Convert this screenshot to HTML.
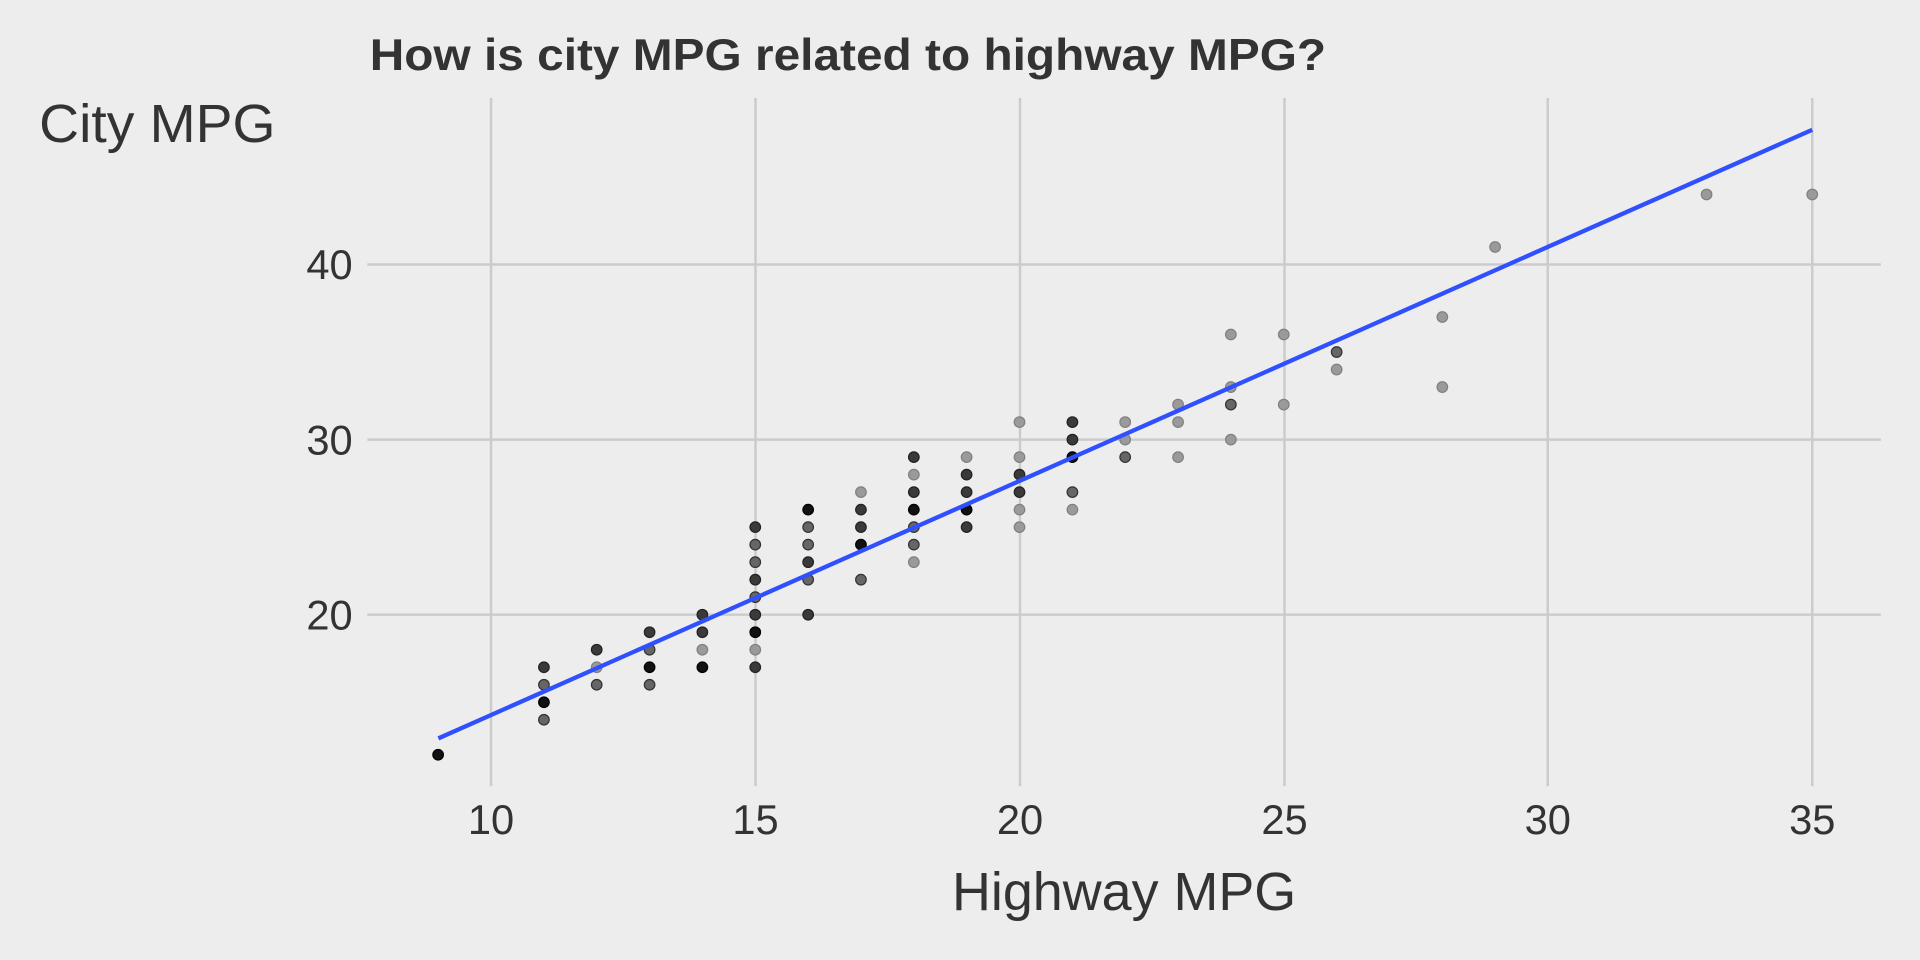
<!DOCTYPE html>
<html><head><meta charset="utf-8"><style>html,body{margin:0;padding:0;background:#ededed;}svg{display:block}
.L{fill:#9a9a9a;stroke:#808080;stroke-width:1}.M{fill:#666;stroke:#333;stroke-width:1}.D{fill:#3a3a3a;stroke:#222;stroke-width:1}.B{fill:#111;stroke:#000;stroke-width:1}</style></head>
<body>
<svg width="1920" height="960" viewBox="0 0 1568 784" xmlns="http://www.w3.org/2000/svg" font-family="Liberation Sans, sans-serif">
<rect width="1568" height="784" fill="#ededed"/>
<g stroke="#cbcbcb" stroke-width="2">
<line x1="300" x2="1536" y1="216" y2="216"/>
<line x1="300" x2="1536" y1="359" y2="359"/>
<line x1="300" x2="1536" y1="502" y2="502"/>
<line x1="401" x2="401" y1="80" y2="642"/>
<line x1="617" x2="617" y1="80" y2="642"/>
<line x1="833" x2="833" y1="80" y2="642"/>
<line x1="1049" x2="1049" y1="80" y2="642"/>
<line x1="1264" x2="1264" y1="80" y2="642"/>
<line x1="1480" x2="1480" y1="80" y2="642"/>
</g>
<g>
<circle class="B" cx="357.8" cy="616.4" r="4.3"/>
<circle class="D" cx="444.2" cy="544.9" r="4.3"/><circle class="M" cx="444.2" cy="559.2" r="4.3"/><circle class="B" cx="444.2" cy="573.5" r="4.3"/><circle class="M" cx="444.2" cy="587.8" r="4.3"/>
<circle class="D" cx="487.3" cy="530.6" r="4.3"/><circle class="L" cx="487.3" cy="544.9" r="4.3"/><circle class="M" cx="487.3" cy="559.2" r="4.3"/>
<circle class="D" cx="530.5" cy="516.3" r="4.3"/><circle class="M" cx="530.5" cy="530.6" r="4.3"/><circle class="B" cx="530.5" cy="544.9" r="4.3"/><circle class="M" cx="530.5" cy="559.2" r="4.3"/>
<circle class="D" cx="573.6" cy="502" r="4.3"/><circle class="D" cx="573.6" cy="516.3" r="4.3"/><circle class="L" cx="573.6" cy="530.6" r="4.3"/><circle class="B" cx="573.6" cy="544.9" r="4.3"/>
<circle class="D" cx="616.8" cy="430.5" r="4.3"/><circle class="M" cx="616.8" cy="444.8" r="4.3"/><circle class="M" cx="616.8" cy="459.1" r="4.3"/><circle class="D" cx="616.8" cy="473.4" r="4.3"/><circle class="M" cx="616.8" cy="487.7" r="4.3"/><circle class="D" cx="616.8" cy="502" r="4.3"/><circle class="B" cx="616.8" cy="516.3" r="4.3"/><circle class="L" cx="616.8" cy="530.6" r="4.3"/><circle class="D" cx="616.8" cy="544.9" r="4.3"/>
<circle class="B" cx="660" cy="416.2" r="4.3"/><circle class="M" cx="660" cy="430.5" r="4.3"/><circle class="M" cx="660" cy="444.8" r="4.3"/><circle class="D" cx="660" cy="459.1" r="4.3"/><circle class="M" cx="660" cy="473.4" r="4.3"/><circle class="D" cx="660" cy="502" r="4.3"/>
<circle class="L" cx="703.1" cy="401.9" r="4.3"/><circle class="D" cx="703.1" cy="416.2" r="4.3"/><circle class="D" cx="703.1" cy="430.5" r="4.3"/><circle class="B" cx="703.1" cy="444.8" r="4.3"/><circle class="M" cx="703.1" cy="473.4" r="4.3"/>
<circle class="D" cx="746.3" cy="373.3" r="4.3"/><circle class="L" cx="746.3" cy="387.6" r="4.3"/><circle class="D" cx="746.3" cy="401.9" r="4.3"/><circle class="B" cx="746.3" cy="416.2" r="4.3"/><circle class="M" cx="746.3" cy="430.5" r="4.3"/><circle class="M" cx="746.3" cy="444.8" r="4.3"/><circle class="L" cx="746.3" cy="459.1" r="4.3"/>
<circle class="L" cx="789.4" cy="373.3" r="4.3"/><circle class="D" cx="789.4" cy="387.6" r="4.3"/><circle class="D" cx="789.4" cy="401.9" r="4.3"/><circle class="B" cx="789.4" cy="416.2" r="4.3"/><circle class="D" cx="789.4" cy="430.5" r="4.3"/>
<circle class="L" cx="832.6" cy="344.7" r="4.3"/><circle class="L" cx="832.6" cy="373.3" r="4.3"/><circle class="D" cx="832.6" cy="387.6" r="4.3"/><circle class="D" cx="832.6" cy="401.9" r="4.3"/><circle class="L" cx="832.6" cy="416.2" r="4.3"/><circle class="L" cx="832.6" cy="430.5" r="4.3"/>
<circle class="D" cx="875.8" cy="344.7" r="4.3"/><circle class="D" cx="875.8" cy="359" r="4.3"/><circle class="B" cx="875.8" cy="373.3" r="4.3"/><circle class="M" cx="875.8" cy="401.9" r="4.3"/><circle class="L" cx="875.8" cy="416.2" r="4.3"/>
<circle class="L" cx="918.9" cy="344.7" r="4.3"/><circle class="L" cx="918.9" cy="359" r="4.3"/><circle class="M" cx="918.9" cy="373.3" r="4.3"/>
<circle class="L" cx="962.1" cy="330.4" r="4.3"/><circle class="L" cx="962.1" cy="344.7" r="4.3"/><circle class="L" cx="962.1" cy="373.3" r="4.3"/>
<circle class="L" cx="1005.2" cy="273.2" r="4.3"/><circle class="L" cx="1005.2" cy="316.1" r="4.3"/><circle class="M" cx="1005.2" cy="330.4" r="4.3"/><circle class="L" cx="1005.2" cy="359" r="4.3"/>
<circle class="L" cx="1048.4" cy="273.2" r="4.3"/><circle class="L" cx="1048.4" cy="330.4" r="4.3"/>
<circle class="M" cx="1091.6" cy="287.5" r="4.3"/><circle class="L" cx="1091.6" cy="301.8" r="4.3"/>
<circle class="L" cx="1177.9" cy="258.9" r="4.3"/><circle class="L" cx="1177.9" cy="316.1" r="4.3"/>
<circle class="L" cx="1221" cy="201.7" r="4.3"/>
<circle class="L" cx="1393.7" cy="158.8" r="4.3"/><circle class="L" cx="1480" cy="158.8" r="4.3"/>
</g>
<line x1="358" y1="603" x2="1480" y2="106" stroke="#3050ff" stroke-width="3.5"/>
<text x="302" y="57" font-size="36" font-weight="bold" fill="#333" textLength="781" lengthAdjust="spacingAndGlyphs">How is city MPG related to highway MPG?</text>
<text x="32" y="116" font-size="44" fill="#333" textLength="193" lengthAdjust="spacingAndGlyphs">City MPG</text>
<g font-size="34" fill="#333" text-anchor="end">
<text x="288" y="228">40</text><text x="288" y="371">30</text><text x="288" y="514">20</text>
</g>
<g font-size="34" fill="#333" text-anchor="middle">
<text x="401" y="681">10</text><text x="617" y="681">15</text><text x="833" y="681">20</text>
<text x="1049" y="681">25</text><text x="1264" y="681">30</text><text x="1480" y="681">35</text>
</g>
<text x="918" y="743" font-size="44" fill="#333" text-anchor="middle">Highway MPG</text>
</svg>
</body></html>
